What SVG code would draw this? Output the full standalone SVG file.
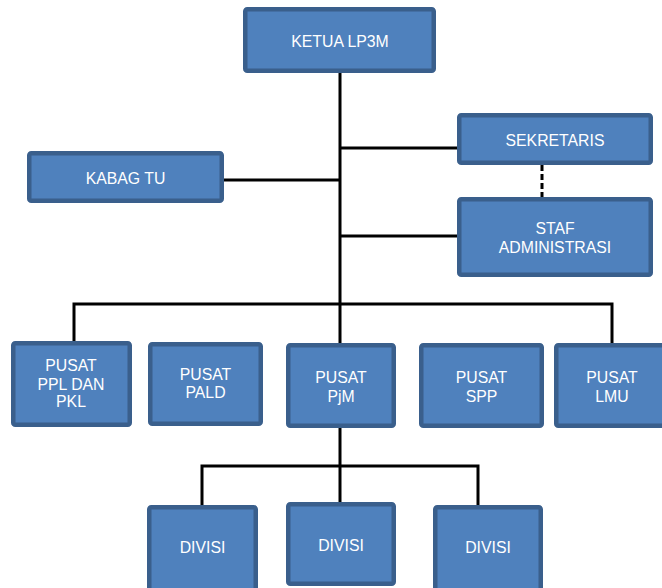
<svg xmlns="http://www.w3.org/2000/svg" width="662" height="588" viewBox="0 0 662 588">
<style>
.box{fill:#4F81BD;stroke:#3A5F8C;stroke-width:4.5}
.t{font-family:"Liberation Sans",Arial,sans-serif;font-size:15.8px;fill:#FFFFFF;text-anchor:middle}
.ln{fill:none;stroke:#000;stroke-width:3;stroke-linejoin:miter}
.dash{fill:none;stroke:#000;stroke-width:3;stroke-dasharray:6,3}
</style>
<rect width="662" height="588" fill="#FFFFFF"/>
<g id="connectors">
<line class="ln" x1="340" y1="72" x2="340" y2="344"/>
<line class="ln" x1="340" y1="148" x2="458" y2="148"/>
<line class="ln" x1="223" y1="180" x2="340" y2="180"/>
<line class="ln" x1="340" y1="236" x2="458" y2="236"/>
<polyline class="ln" points="74,342 74,304 612,304 612,344"/>
<line class="dash" x1="542" y1="165" x2="542" y2="198"/>
<line class="ln" x1="340" y1="427" x2="340" y2="503"/>
<polyline class="ln" points="202,506 202,466 478,466 478,506"/>
</g>
<g id="ketua"><rect class="box" x="245.25" y="9.25" width="188.5" height="61.5" rx="2"/><text class="t" x="340" y="46.5">KETUA LP3M</text></g>
<g id="kabag"><rect class="box" x="29.25" y="153.25" width="192.5" height="47.5" rx="2"/><text class="t" x="125.5" y="184">KABAG TU</text></g>
<g id="sekretaris"><rect class="box" x="459.25" y="115.25" width="191.5" height="47.5" rx="2"/><text class="t" x="555" y="146">SEKRETARIS</text></g>
<g id="staf"><rect class="box" x="459.25" y="199.25" width="191.5" height="75.5" rx="2"/><text class="t" x="555" y="234">STAF</text><text class="t" x="555" y="253.3">ADMINISTRASI</text></g>
<g id="pusat-ppl"><rect class="box" x="13.25" y="343.25" width="116.5" height="81.5" rx="2"/><text class="t" x="71" y="371">PUSAT</text><text class="t" x="71" y="390">PPL DAN</text><text class="t" x="71" y="407.3">PKL</text></g>
<g id="pusat-pald"><rect class="box" x="150.25" y="344.25" width="110.5" height="79.5" rx="2"/><text class="t" x="205.5" y="380">PUSAT</text><text class="t" x="205.5" y="398.3">PALD</text></g>
<g id="pusat-pjm"><rect class="box" x="288.25" y="345.25" width="105.5" height="80.5" rx="2"/><text class="t" x="341" y="382.7">PUSAT</text><text class="t" x="341" y="401.7">PjM</text></g>
<g id="pusat-spp"><rect class="box" x="421.25" y="345.25" width="120.5" height="80.5" rx="2"/><text class="t" x="481.5" y="382.7">PUSAT</text><text class="t" x="481.5" y="401.7">SPP</text></g>
<g id="pusat-lmu"><rect class="box" x="556.25" y="345.25" width="115" height="80.5" rx="2"/><text class="t" x="612" y="382.7">PUSAT</text><text class="t" x="612" y="401.7">LMU</text></g>
<g id="divisi-1"><rect class="box" x="149.25" y="507.25" width="106.5" height="85" rx="2"/><text class="t" x="202.5" y="553.3">DIVISI</text></g>
<g id="divisi-2"><rect class="box" x="288.25" y="504.25" width="105.5" height="79.5" rx="2"/><text class="t" x="341" y="551">DIVISI</text></g>
<g id="divisi-3"><rect class="box" x="435.25" y="507.25" width="105.5" height="85" rx="2"/><text class="t" x="488" y="553.3">DIVISI</text></g>
</svg>
